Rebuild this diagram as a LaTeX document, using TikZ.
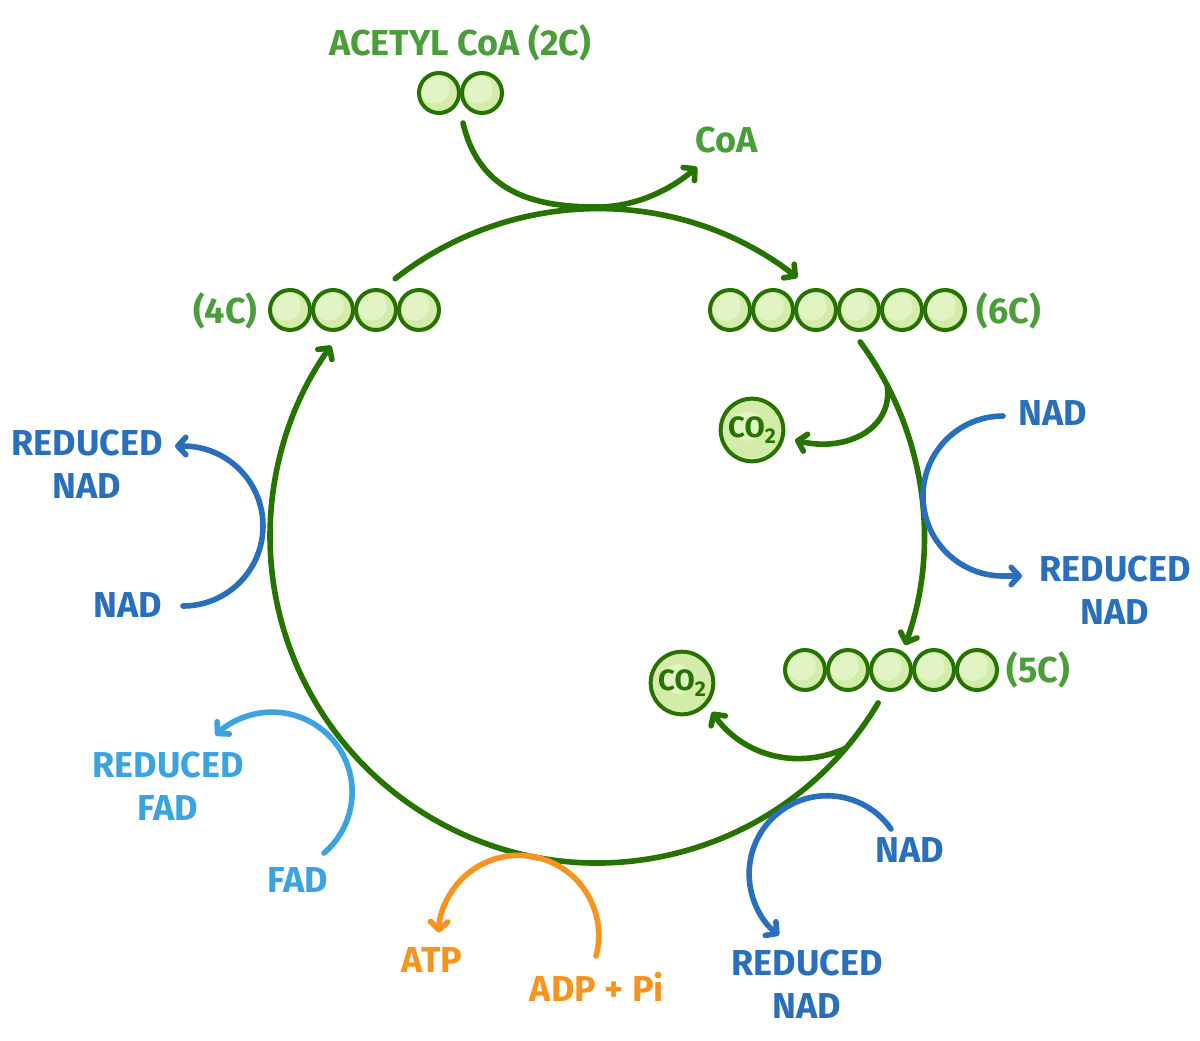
\documentclass[tikz,border=0pt]{standalone}
\usepackage{fontspec}
\setmainfont{Fira Sans}
\usetikzlibrary{arrows.meta,calc}

\definecolor{cycgreen}{RGB}{38,115,0}
\definecolor{labgreen}{RGB}{74,158,58}
\definecolor{ballfill}{RGB}{212,236,170}
\definecolor{ballhi}{RGB}{226,244,196}
\definecolor{nadblue}{RGB}{41,111,187}
\definecolor{fadblue}{RGB}{59,163,224}
\definecolor{atporange}{RGB}{247,148,32}

\tikzset{every picture/.style={line width=0.75pt}}
\tikzset{
  ball/.style={circle,draw=cycgreen,line width=3pt,fill=ballfill,minimum size=30pt,inner sep=0pt,
    path picture={\fill[ballhi] ([shift={(-3pt,3pt)}]path picture bounding box.center) circle (11pt);}},
  cobal/.style={ball,minimum size=47pt,font=\fontsize{22}{24}\selectfont\bfseries\color{cycgreen}},
  lab/.style={inner sep=0.75pt,align=center,font=\fontsize{27}{32}\selectfont\bfseries},
  cyc/.style={draw=cycgreen,line width=4.2pt,line cap=round},
  side/.style={line width=4.2pt,line cap=round},
  arr/.style={-{Straight Barb[round,length=6pt,width=13pt]}}
}

\begin{document}
\begin{tikzpicture}[x=0.75pt,y=0.75pt,yscale=-1,xscale=1]
\useasboundingbox (0,0) rectangle (1200,1040);

%Carbon chains
\foreach \i in {1,2} \node[ball] (two\i) at ({396+43*\i},93) {};
\foreach \i in {1,...,4} \node[ball] (four\i) at ({247+43*\i},310) {};
\foreach \i in {1,...,6} \node[ball] (six\i) at ({687+43*\i},310) {};
\foreach \i in {1,...,5} \node[ball] (five\i) at ({762+43*\i},670) {};

%CO2
\node[cobal] (coA) at (752,430) {CO\raisebox{-0.35ex}{\fontsize{16}{16}\selectfont 2}};
\node[cobal] (coB) at (682,683) {CO\raisebox{-0.35ex}{\fontsize{16}{16}\selectfont 2}};

% Text Node
\node[lab,text=labgreen] (acetyl) at (460,43) {ACETYL CoA (2C)};
\node[lab,text=labgreen] (coa) at (727,140) {CoA};
\node[lab,text=labgreen,anchor=east] (l4c) at (259,311) {(4C)};
\node[lab,text=labgreen,anchor=west] (l6c) at (975,311) {(6C)};
\node[lab,text=labgreen,anchor=west] (l5c) at (1005,670) {(5C)};
\node[lab,text=nadblue] (rnadL) at (87,464) {REDUCED\\NAD};
\node[lab,text=nadblue] (nadL) at (128,605) {NAD};
\node[lab,text=nadblue] (nadR) at (1053,413) {NAD};
\node[lab,text=nadblue] (rnadR) at (1115,590) {REDUCED\\NAD};
\node[lab,text=fadblue] (rfad) at (168,786) {REDUCED\\FAD};
\node[lab,text=fadblue] (fad) at (298,880) {FAD};
\node[lab,text=atporange] (atp) at (432,960) {ATP};
\node[lab,text=atporange] (adp) at (597,987) {ADP + Pi};
\node[lab,text=nadblue] (nadB) at (910,850) {NAD};
\node[lab,text=nadblue] (rnadB) at (807,984) {REDUCED\\NAD};

%Cycle
\coordinate (ctr) at (597,536);
\coordinate (p4c) at ($(ctr)+(-128.1:327)$);
\coordinate (p6c) at ($(ctr)+(-36.4:327)$);
\coordinate (p5c) at ($(ctr)+(30.7:327)$);
\coordinate (q6c) at ($(ctr)+(-27.4:327)$);
\coordinate (q5c) at ($(ctr)+(40.5:327)$);
\draw[cyc,arr] (p4c) arc[start angle=-128.1,end angle=-52.2,radius=327];
\draw[cyc,arr] (p6c) arc[start angle=-36.4,end angle=19.5,radius=327];
\draw[cyc,arr] (p5c) arc[start angle=30.7,end angle=215.6,radius=327];

%Acetyl CoA in, CoA out
\coordinate (a0) at (463,123);
\coordinate (a1) at (697,167);
\draw[cyc,arr] (a0) .. controls (480,196) and (540,207) .. (597,207) .. controls (640,207) and (675,186) .. (a1);

%CO2 out
\coordinate (c1) at (795,440);
\coordinate (c2) at (712,712);
\draw[cyc,arr] (q6c) .. controls (893,432) and (842,452) .. (c1);
\draw[cyc,arr] (q5c) .. controls (792,772) and (740,752) .. (c2);

%NAD -> reduced NAD
\coordinate (n1) at (1003,416);
\draw[side,nadblue,arr] (n1) arc[start angle=-90,end angle=-270,radius=80] -- ++(19,0);
\coordinate (n3) at (183,606);
\draw[side,nadblue,arr] (n3) arc[start angle=90,end angle=-90,radius=80] -- ++(-8,0);
\coordinate (n5) at (891,829);
\draw[side,nadblue,arr] (n5) arc[start angle=-35,end angle=-232,radius=78];

%FAD -> reduced FAD
\coordinate (f1) at (324,853);
\draw[side,fadblue,arr] (f1) arc[start angle=49.6,end angle=-135,radius=80];

%ADP -> ATP
\coordinate (d1) at (596,956);
\draw[side,atporange,arr] (d1) arc[start angle=15,end angle=-178,radius=80];

\end{tikzpicture}
\end{document}
